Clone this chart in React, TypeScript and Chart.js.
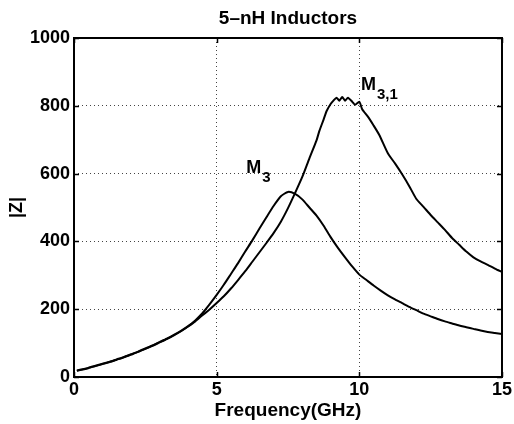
import React, { useEffect, useRef } from "react";
import { Chart, registerables } from "chart.js";

Chart.register(...registerables);

const FONT = '"Liberation Sans", Arial, Helvetica, sans-serif';

const titleText = "5–nH Inductors";
const xTitle = "Frequency(GHz)";
const yTitle = "|Z|";

const xMin = 0;
const xMax = 15;
const xStep = 5;
const yMin = 0;
const yMax = 1000;
const yStep = 200;

// M3 curve
const freqM3 = [
  0.1, 0.25, 0.5, 0.75, 1, 1.25, 1.5, 1.75, 2, 2.25, 2.5, 2.75, 3, 3.25, 3.5, 3.75,
  4, 4.25, 4.5, 4.75, 5, 5.25, 5.5, 5.75, 6, 6.25, 6.5, 6.75, 7, 7.25, 7.5, 7.75,
  8, 8.25, 8.5, 8.75, 9, 9.25, 9.5, 9.75, 10, 10.25, 10.5, 10.75, 11, 11.25, 11.5,
  11.75, 12, 12.25, 12.5, 12.75, 13, 13.25, 13.5, 13.75, 14, 14.25, 14.5, 14.75, 15,
];
const zM3 = [
  19, 22, 27, 33, 39, 45, 52, 59, 67, 75, 84, 93, 103, 113, 124, 136,
  150, 167, 188, 214, 242, 272, 304, 336, 370, 403, 438, 472, 505, 533, 546, 540,
  524, 500, 476, 446, 412, 381, 353, 326, 302, 286, 270, 255, 241, 229, 218,
  207, 197, 187, 179, 171, 164, 158, 152, 147, 142, 137, 133, 130, 127,
];

// M3,1 curve
const freqM31 = [
  0.1, 0.25, 0.5, 0.75, 1, 1.25, 1.5, 1.75, 2, 2.25, 2.5, 2.75, 3, 3.25, 3.5, 3.75,
  4, 4.25, 4.5, 4.75, 5, 5.25, 5.5, 5.75, 6, 6.25, 6.5, 6.75, 7, 7.25, 7.5, 7.75,
  8, 8.25, 8.5, 8.6, 8.75, 8.85, 9, 9.1, 9.2, 9.3, 9.4, 9.5, 9.6, 9.75, 9.85, 10,
  10.1, 10.3, 10.5, 10.7, 11, 11.25, 11.5, 11.75, 12, 12.25, 12.5, 12.75, 13,
  13.25, 13.5, 13.75, 14, 14.25, 14.5, 14.75, 15,
];
const zM31 = [
  18, 21, 26, 32, 38, 44, 51, 58, 66, 74, 83, 92, 102, 112, 123, 135,
  149, 164, 182, 199, 218, 238, 261, 286, 312, 340, 368, 396, 425, 458, 498, 543,
  590, 645, 698, 726, 760, 784, 806, 816, 824, 815, 826, 815, 824, 812, 803, 812,
  790, 768, 742, 714, 660, 630, 598, 563, 525, 502, 478, 456, 434,
  410, 390, 370, 353, 341, 331, 320, 310,
];

// curve labels (anchor in data units)
const labelM3 = { main: "M", sub: "3", f: 6.04, z: 601 };
const labelM31 = { main: "M", sub: "3,1", f: 10.06, z: 847 };

const toPoints = (xs: number[], ys: number[]) => xs.map((x, i) => ({ x, y: ys[i] }));

const overlay = {
  id: "overlay",
  afterDraw(chart: any) {
    const { ctx, chartArea: a, scales } = chart;
    const x = scales.x;
    const y = scales.y;
    ctx.save();
    ctx.setLineDash([]);
    ctx.strokeStyle = "#000";
    ctx.fillStyle = "#000";
    // inner tick marks
    ctx.lineWidth = 1.5;
    ctx.beginPath();
    for (let t = xMin; t <= xMax; t += xStep) {
      const px = Math.round(x.getPixelForValue(t)) + 0.5;
      ctx.moveTo(px, a.bottom);
      ctx.lineTo(px, a.bottom - 5);
      ctx.moveTo(px, a.top);
      ctx.lineTo(px, a.top + 5);
    }
    for (let t = yMin; t <= yMax; t += yStep) {
      const py = Math.round(y.getPixelForValue(t)) + 0.5;
      ctx.moveTo(a.left, py);
      ctx.lineTo(a.left + 5, py);
      ctx.moveTo(a.right, py);
      ctx.lineTo(a.right - 5, py);
    }
    ctx.stroke();
    // frame
    ctx.lineWidth = 2;
    ctx.strokeRect(a.left, a.top, a.right - a.left, a.bottom - a.top);
    // title
    ctx.font = `bold 19px ${FONT}`;
    ctx.textAlign = "center";
    ctx.textBaseline = "alphabetic";
    ctx.fillText(titleText, (a.left + a.right) / 2, 24);
    // curve labels
    ctx.textAlign = "left";
    for (const l of [labelM3, labelM31]) {
      const px = x.getPixelForValue(l.f);
      const py = y.getPixelForValue(l.z);
      ctx.font = `bold 18px ${FONT}`;
      ctx.fillText(l.main, px, py);
      const w = ctx.measureText(l.main).width;
      ctx.font = `bold 15px ${FONT}`;
      ctx.fillText(l.sub, px + w + 1, py + 9);
    }
    ctx.restore();
  },
};

export default function App() {
  const ref = useRef<HTMLCanvasElement>(null);
  useEffect(() => {
    document.body.style.margin = "0";
    const canvas = ref.current;
    if (!canvas) return;
    const tickFont = { family: FONT, size: 18, weight: "bold" as const };
    const chart = new Chart(canvas, {
      type: "line",
      data: {
        datasets: [
          {
            label: "M3",
            data: toPoints(freqM3, zM3),
            borderColor: "#000",
            borderWidth: 2,
            pointRadius: 0,
            tension: 0.2,
            fill: false,
          },
          {
            label: "M3,1",
            data: toPoints(freqM31, zM31),
            borderColor: "#000",
            borderWidth: 2,
            pointRadius: 0,
            tension: 0.2,
            fill: false,
          },
        ],
      },
      options: {
        animation: false,
        responsive: false,
        devicePixelRatio: 1,
        layout: { padding: { top: 38, right: 11, bottom: 0, left: 0 } },
        plugins: {
          legend: { display: false },
          tooltip: { enabled: false },
          title: { display: false },
        },
        scales: {
          x: {
            type: "linear",
            min: xMin,
            max: xMax,
            ticks: {
              stepSize: xStep,
              color: "#000",
              font: tickFont,
              padding: 2,
              maxRotation: 0,
              callback: (v: any) => String(v),
            },
            grid: { color: "#444", lineWidth: 1, drawTicks: false },
            border: { display: false, dash: [1, 3] },
            title: {
              display: true,
              text: xTitle,
              color: "#000",
              font: { family: FONT, size: 19, weight: "bold" },
              padding: { top: 0, bottom: 2 },
            },
            afterFit: (s: any) => {
              s.height = 47;
            },
          },
          y: {
            type: "linear",
            min: yMin,
            max: yMax,
            ticks: {
              stepSize: yStep,
              color: "#000",
              font: tickFont,
              padding: 4,
              callback: (v: any) => String(v),
            },
            grid: { color: "#444", lineWidth: 1, drawTicks: false },
            border: { display: false, dash: [1, 3] },
            title: {
              display: true,
              text: yTitle,
              color: "#000",
              font: { family: FONT, size: 18, weight: "bold" },
              padding: { top: 6, bottom: 0 },
            },
            afterFit: (s: any) => {
              s.width = 74;
            },
          },
        },
      },
      plugins: [overlay],
    });
    return () => chart.destroy();
  }, []);
  return (
    <div style={{ width: 514, height: 424 }}>
      <canvas ref={ref} width={514} height={424} style={{ display: "block" }} />
    </div>
  );
}
